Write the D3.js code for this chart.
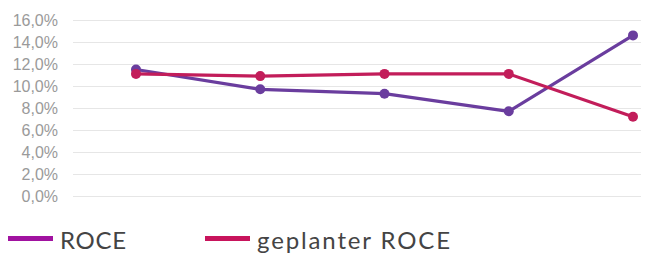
<!DOCTYPE html>
<html><head><meta charset="utf-8">
<script src="https://cdn.jsdelivr.net/npm/d3@7"></script>
<style>body{margin:0;background:#fff}svg{display:block}</style>
</head><body>
<svg id="c" width="647" height="255"></svg>
<script>
const categories = ["1","2","3","4","5"];
const roce = [11.5, 9.7, 9.3, 7.7, 14.6];
const plan = [11.1, 10.9, 11.1, 11.1, 7.2];
const yTicks = [0,2,4,6,8,10,12,14,16];
const seriesNames = ["ROCE", "geplanter ROCE"];

const svg = d3.select("#c");
const x = d3.scalePoint().domain(categories).range([136, 633]);
const y = d3.scaleLinear().domain([0,16]).range([196, 20]);
const fmt = v => v.toFixed(1).replace(".", ",") + "%";

const grid = svg.append("g");
grid.selectAll("line").data(yTicks).join("line")
  .attr("x1", 73).attr("x2", 641)
  .attr("y1", d => y(d) + 0.5).attr("y2", d => y(d) + 0.5)
  .attr("stroke", "#e6e6e6").attr("stroke-width", 1);

const yAxis = d3.axisLeft(y).tickValues(yTicks).tickFormat(fmt).tickSize(0).tickPadding(0);
const ga = svg.append("g").attr("transform", "translate(58,0)").call(yAxis);
ga.select(".domain").remove();
ga.selectAll("text").attr("fill", "#9a9a9a").attr("font-size", "16px")
  .attr("font-family", "'Liberation Sans', Arial, sans-serif");

const series = [
  {vals: roce, color: "#6a3d9e"},
  {vals: plan, color: "#c21d5a"}
];
const line = d3.line().x((d,i) => x(categories[i])).y(d => y(d));
series.forEach(s => {
  svg.append("path").datum(s.vals).attr("d", line)
    .attr("fill", "none").attr("stroke", s.color).attr("stroke-width", 3.2)
    .attr("stroke-linejoin", "round");
  svg.append("g").selectAll("circle").data(s.vals).join("circle")
    .attr("cx", (d,i) => x(categories[i])).attr("cy", d => y(d)).attr("r", 5)
    .attr("fill", s.color);
});

const legendColors = ["#a112a0", "#c8145c"];
const legX = [8, 205];
const legLen = [66, 193];
seriesNames.forEach((n, i) => {
  svg.append("rect").attr("x", legX[i]).attr("y", 236).attr("width", 45).attr("height", 5)
    .attr("fill", legendColors[i]);
  svg.append("text").attr("x", legX[i] + 52).attr("y", 249).text(n)
    .attr("textLength", legLen[i]).attr("lengthAdjust", "spacing")
    .attr("font-family", "Lato, sans-serif").attr("font-size", "24px").attr("fill", "#444");
});
</script>
</body></html>
